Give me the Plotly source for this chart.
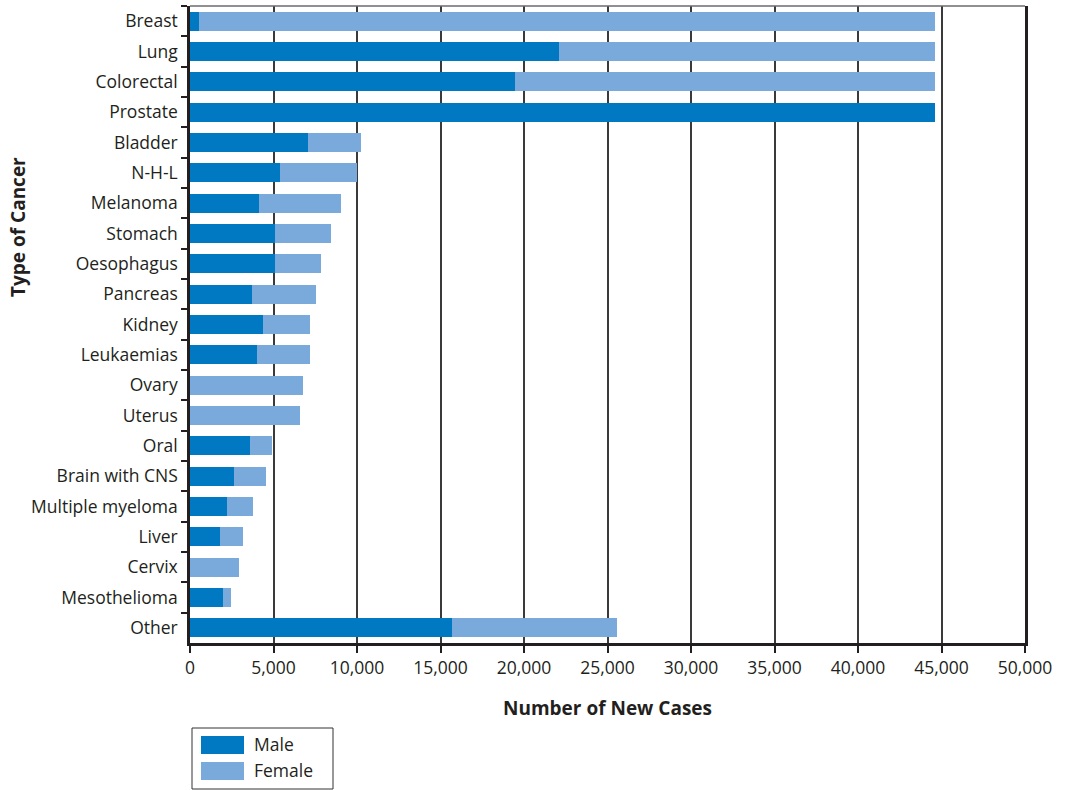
import plotly.graph_objects as go

# New cancer cases by type, split by sex
cancer_types = [
    "Breast", "Lung", "Colorectal", "Prostate", "Bladder", "N-H-L", "Melanoma",
    "Stomach", "Oesophagus", "Pancreas", "Kidney", "Leukaemias", "Ovary", "Uterus",
    "Oral", "Brain with CNS", "Multiple myeloma", "Liver", "Cervix", "Mesothelioma",
    "Other",
]
male_cases = [
    550, 22100, 19450, 44600, 7050, 5390, 4130,
    5090, 5090, 3710, 4370, 4010, 0, 0,
    3590, 2640, 2220, 1800, 0, 1980,
    15690,
]
female_cases = [
    44050, 22500, 25150, 0, 3190, 4600, 4910,
    3350, 2750, 3830, 2820, 3180, 6770, 6590,
    1320, 1910, 1550, 1370, 2930, 480,
    9880,
]
series_names = ["Male", "Female"]

x_ticks = list(range(0, 50001, 5000))

MALE_COLOR = "#0079c2"
FEMALE_COLOR = "#79aadb"
series_colors = [MALE_COLOR, FEMALE_COLOR]
INK = "#231f20"
FONT = "Open Sans"

W, H = 1069, 790
M_L, M_R, M_T, M_B = 190, 44, 6, 147
PLOT_W = W - M_L - M_R
PLOT_H = H - M_T - M_B


def px_x(px):
    """Pixel column -> paper x."""
    return (px - M_L) / PLOT_W


def px_y(py):
    """Pixel row -> paper y."""
    return (H - M_B - py) / PLOT_H


fig = go.Figure()
for name, values, color in zip(series_names, [male_cases, female_cases], series_colors):
    fig.add_trace(go.Bar(
        name=name, y=cancer_types, x=values, orientation="h",
        marker=dict(color=color, line=dict(width=0)),
        showlegend=False,
    ))

shapes = [
    # light frame line along the top of the plot
    dict(type="line", xref="paper", yref="paper", x0=0, x1=1, y0=1, y1=1,
         line=dict(color="#6b6b6b", width=1.5)),
    # legend box
    dict(type="rect", xref="paper", yref="paper",
         x0=px_x(192), x1=px_x(333), y0=px_y(728), y1=px_y(789),
         line=dict(color="#333333", width=1), fillcolor="white"),
]
annotations = [dict(
    text="<b>Type of Cancer</b>", xref="paper", yref="paper",
    x=px_x(18), y=px_y(227), xanchor="center", yanchor="middle",
    textangle=-90, showarrow=False,
    font=dict(size=19, color=INK, family=FONT),
)]
for i, (name, color) in enumerate(zip(series_names, series_colors)):
    top = 736 + i * 26
    shapes.append(dict(
        type="rect", xref="paper", yref="paper",
        x0=px_x(201), x1=px_x(244), y0=px_y(top), y1=px_y(top + 18),
        line=dict(width=0), fillcolor=color,
    ))
    annotations.append(dict(
        text=name, xref="paper", yref="paper",
        x=px_x(252), y=px_y(top + 8), xanchor="left", yanchor="middle",
        showarrow=False, font=dict(size=17.5, color=INK, family=FONT),
    ))

fig.update_layout(
    width=W, height=H,
    barmode="stack", bargap=0.37,
    plot_bgcolor="white", paper_bgcolor="white",
    margin=dict(l=M_L, r=M_R, t=M_T, b=M_B),
    font=dict(family=FONT, size=17.5, color=INK),
    showlegend=False,
    xaxis=dict(
        range=[0, 50000], tickvals=x_ticks, tickformat=",",
        showgrid=True, gridcolor="#3a3a3a", gridwidth=1.5,
        showline=True, linecolor=INK, linewidth=2.5,
        ticks="outside", ticklen=7, tickwidth=1.5, tickcolor=INK,
        tickfont=dict(size=17.5, color=INK),
        zeroline=False,
        title=dict(text="<b>Number of New Cases</b>",
                   font=dict(size=19, color=INK, family=FONT), standoff=24),
    ),
    yaxis=dict(
        categoryorder="array", categoryarray=cancer_types, autorange="reversed",
        showline=True, linecolor=INK, linewidth=2.5, mirror=True,
        ticks="outside", ticklen=6, tickwidth=1.5, tickcolor=INK,
        tickson="boundaries", ticklabelstandoff=6,
        tickfont=dict(size=17.5, color=INK),
        showgrid=False, zeroline=False,
    ),
    annotations=annotations,
    shapes=shapes,
)

fig.write_html("out.html")
